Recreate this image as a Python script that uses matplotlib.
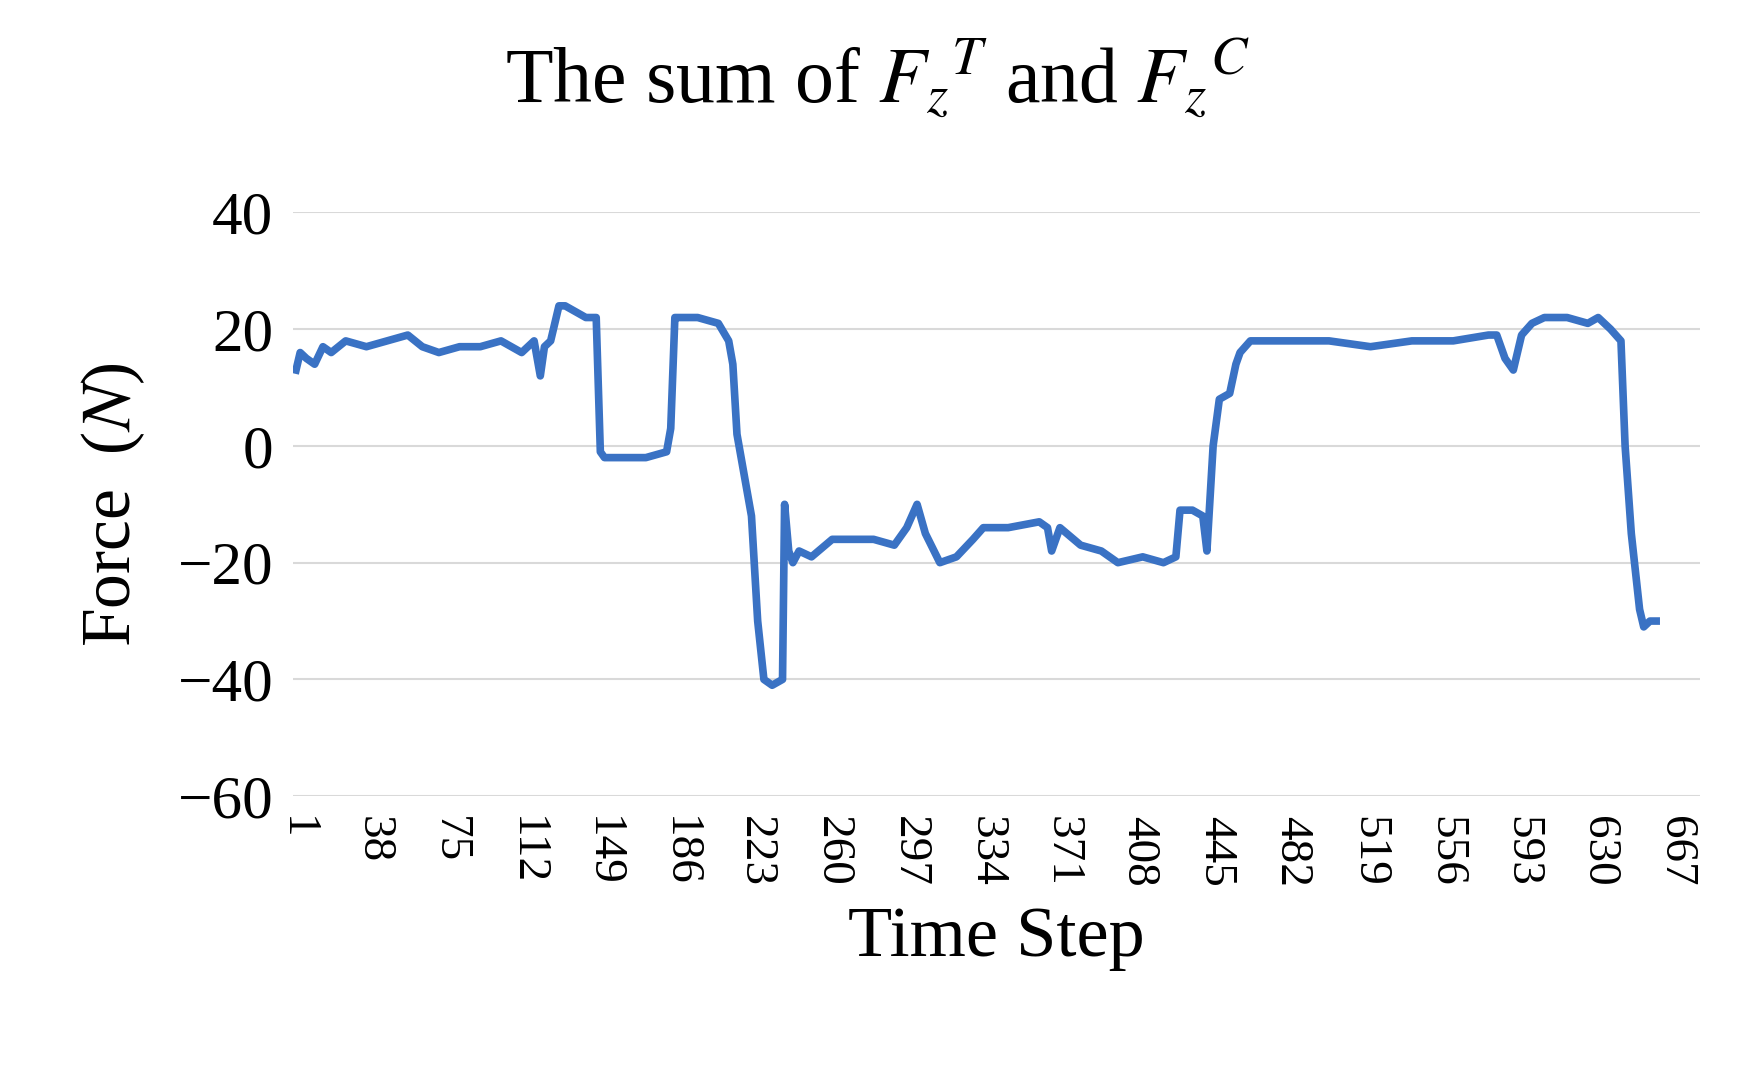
import matplotlib
matplotlib.use("Agg")
import matplotlib.pyplot as plt

plt.rcParams['font.family'] = ['Liberation Serif', 'DejaVu Serif']
plt.rcParams['mathtext.fontset'] = 'stix'

steps = [1, 3, 6, 10, 14, 18, 25, 35, 45, 55, 62, 70, 80, 90, 100, 110, 116, 119, 121, 124, 128, 131, 136, 141, 146,
         148, 150, 160, 170, 180, 182, 184, 186, 195, 205, 210, 212, 214, 218, 221, 224, 227, 231, 236, 237, 239, 241,
         244, 250, 260, 268, 280, 290, 296, 301, 305, 312, 320, 328, 333, 345, 360, 364, 366, 370, 380, 390, 398, 410,
         420, 426, 428, 434, 439, 441, 444, 447, 452, 455, 457, 462, 469, 480, 500, 520, 540, 560, 577, 581, 585, 589,
         593, 598, 604, 615, 625, 630, 636, 641, 643, 646, 650, 652, 655, 658]
values = [13, 16, 15, 14, 17, 16, 18, 17, 18, 19, 17, 16, 17, 17, 18, 16, 18, 12, 17, 18, 24, 24, 23, 22, 22,
          -1, -2, -2, -2, -1, 3, 22, 22, 22, 21, 18, 14, 2, -6, -12, -30, -40, -41, -40, -10, -18, -20,
          -18, -19, -16, -16, -16, -17, -14, -10, -15, -20, -19, -16, -14, -14, -13, -14, -18, -14, -17, -18, -20, -19,
          -20, -19, -11, -11, -12, -18, 0, 8, 9, 14, 16, 18, 18, 18, 18, 17, 18, 18, 19, 19, 15, 13,
          19, 21, 22, 22, 21, 22, 20, 18, 0, -15, -28, -31, -30, -30]
xticks = list(range(1, 668, 37))
yticks = [-60, -40, -20, 0, 20, 40]

fig = plt.figure(figsize=(17.54, 10.73), dpi=100)
ax = fig.add_axes([0.167, 0.258, 0.802, 0.544])
ax.plot(steps, values, color='#3a72c4', lw=5.5, solid_joinstyle='round')
ax.set_xlim(-0.5, 679)
ax.set_ylim(-60, 40)
ax.set_yticks(yticks)
ax.set_yticklabels([str(v).replace('-', '\u2212') for v in yticks], fontsize=44)
ax.set_xticks(xticks)
ax.set_xticklabels([str(v) for v in xticks], rotation=-90, fontsize=34)
ax.grid(axis='y', color='#d9d9d9', lw=1.5)
ax.set_axisbelow(True)
for s in ax.spines.values():
    s.set_visible(False)
ax.tick_params(length=0, pad=14)
ax.set_xlabel('Time Step', fontsize=52, labelpad=14)
ax.set_ylabel(r'Force  ($N$)', fontsize=50, labelpad=22)
fig.text(0.5, 0.927, r'The sum of $F_z{}^T$ and $F_z{}^C$', ha='center', va='center', fontsize=56)
fig.savefig('out.png', dpi=100)
